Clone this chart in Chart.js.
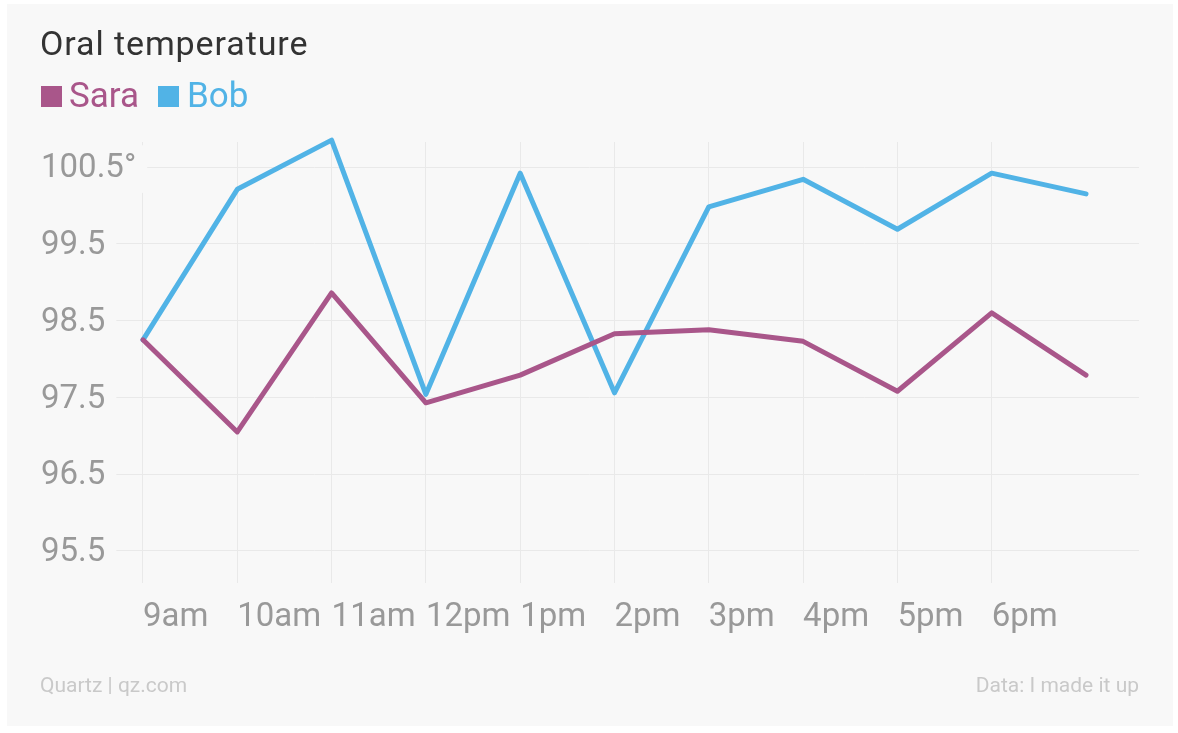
<!DOCTYPE html>
<html>
<head>
<meta charset="utf-8">
<script src="https://cdn.jsdelivr.net/npm/chart.js@4/dist/chart.umd.min.js"></script>
<style>
  html, body { margin: 0; padding: 0; background: #ffffff; }
  body { width: 1178px; height: 733px; position: relative; overflow: hidden; font-family: Roboto, "Noto Sans", sans-serif; }
  #panel { position: absolute; left: 7px; top: 4px; width: 1166px; height: 722px; background: #f8f8f8; }
  #wrap { position: absolute; left: 0; top: 0; width: 1178px; height: 733px; }
  .txt { position: absolute; white-space: nowrap; }
  #title { left: 40px; top: 26px; font-size: 34px; line-height: 34px; letter-spacing: 0.9px; color: #333333; }
  .leg { top: 78px; font-size: 35px; line-height: 35px; }
  .sq { position: absolute; top: 86px; width: 21px; height: 21px; }
  .foot { top: 675px; font-size: 21px; line-height: 21px; color: #c9c9c9; }
</style>
</head>
<body>
<div id="panel"></div>
<div id="wrap"><canvas id="c" width="1178" height="733"></canvas></div>
<div class="txt" id="title">Oral temperature</div>
<div class="sq" style="left:41px;background:#a9568a"></div>
<div class="txt leg" style="left:69px;color:#a9568a">Sara</div>
<div class="sq" style="left:158px;background:#51b3e6"></div>
<div class="txt leg" style="left:187px;color:#51b3e6">Bob</div>
<div class="txt foot" style="left:40px">Quartz | qz.com</div>
<div class="txt foot" style="right:39px">Data: I made it up</div>
<script>
const xLabels = ['9am', '10am', '11am', '12pm', '1pm', '2pm', '3pm', '4pm', '5pm', '6pm', ''];
const sara = [98.25, 97.05, 98.86, 97.43, 97.79, 98.33, 98.38, 98.23, 97.58, 98.60, 97.79];
const bob = [98.25, 100.21, 100.85, 97.54, 100.42, 97.56, 99.98, 100.34, 99.69, 100.42, 100.15];
const yTicks = [95.5, 96.5, 97.5, 98.5, 99.5, 100.5];
const yTickLabels = ['95.5', '96.5', '97.5', '98.5', '99.5', '100.5\u00B0'];
const xTickCount = 10; // labelled gridlines 9am..6pm

const toPoints = arr => arr.map((v, i) => ({ x: i, y: v }));

new Chart(document.getElementById('c'), {
  type: 'line',
  data: {
    datasets: [
      { label: 'Sara', data: toPoints(sara), borderColor: '#a9568a', borderWidth: 5, pointRadius: 0, tension: 0, clip: false, borderCapStyle: 'round', borderJoinStyle: 'round' },
      { label: 'Bob', data: toPoints(bob), borderColor: '#51b3e6', borderWidth: 5, pointRadius: 0, tension: 0, clip: false, borderCapStyle: 'round', borderJoinStyle: 'round' }
    ]
  },
  options: {
    responsive: false,
    animation: false,
    events: [],
    layout: { padding: { left: 40, right: 39, top: 142, bottom: 90 } },
    plugins: { legend: { display: false }, tooltip: { enabled: false }, title: { display: false } },
    scales: {
      x: {
        type: 'linear',
        min: -1.092,
        max: 10.562,
        afterBuildTicks: s => { s.ticks = xLabels.slice(0, xTickCount).map((_, i) => ({ value: i })); },
        afterFit: s => { s.height = 60; },
        border: { display: false },
        grid: { color: '#e9e9e9', lineWidth: 1, drawTicks: false },
        ticks: {
          autoSkip: false, maxRotation: 0, minRotation: 0, align: 'start', padding: 15,
          color: '#999999', font: { family: 'Roboto', size: 33 },
          callback: v => xLabels[v]
        }
      },
      y: {
        type: 'linear',
        min: 95.083,
        max: 100.826,
        afterBuildTicks: s => { s.ticks = yTicks.map(v => ({ value: v })); },
        afterFit: s => { s.width = 0; },
        border: { display: false },
        grid: { color: '#e9e9e9', lineWidth: 1, drawTicks: false },
        ticks: {
          mirror: true, padding: 1, labelOffset: 2, color: '#999999', font: { family: 'Roboto', size: 33 },
          showLabelBackdrop: true, backdropColor: '#f8f8f8',
          backdropPadding: { left: 2, right: 11, top: 4, bottom: 4 },
          callback: (v, i) => yTickLabels[i]
        }
      }
    }
  }
});
</script>
</body>
</html>
